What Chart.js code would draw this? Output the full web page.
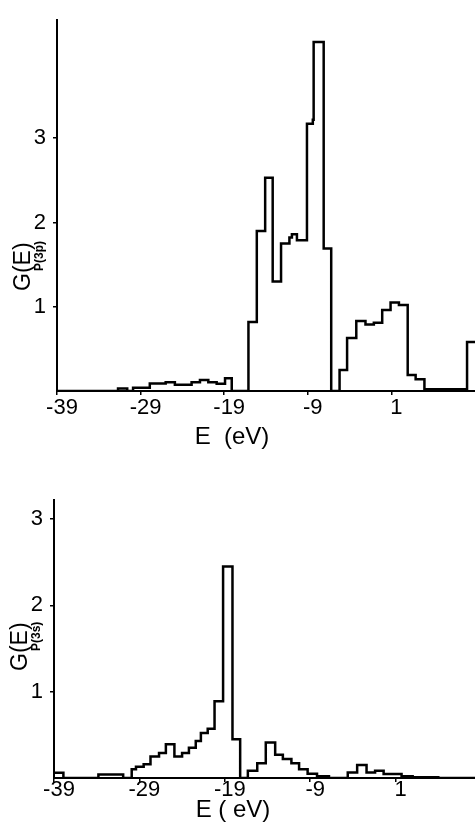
<!DOCTYPE html>
<html>
<head>
<meta charset="utf-8">
<script src="https://cdn.jsdelivr.net/npm/chart.js@4/dist/chart.umd.min.js"></script>
<style>
  body { margin: 0; background: #fff; width: 475px; height: 835px; overflow: hidden; }
  canvas { position: absolute; left: 0; }
  #topChart { top: 0; }
  #botChart { top: 450px; }
</style>
</head>
<body>
<canvas id="topChart" width="475" height="450"></canvas>
<canvas id="botChart" width="475" height="385"></canvas>
<script>
// tick labels
var xTicks = [-39, -29, -19, -9, 1];
var yTicks = [1, 2, 3];

// G(E) P(3p): lower edge of each bin (eV) and its height
var topEdges = [-39, -31.7, -30.6, -29.9, -27.9, -26, -24.9, -22.9, -21.9, -20.9, -19.9, -18.9, -18.1,
    -16.1, -15.1, -14.1, -13.2, -12.2, -11.2, -10.9, -10.3, -9.1, -8.4, -8.3, -7.1, -6.2,
    -5.2, -4.3, -3.2, -2.1, -1.1, -0.1, 0.9, 1.9, 2.95, 3.9, 4.95, 10.05, 11];
var topDos = [0, 0.03, 0, 0.04, 0.09, 0.105, 0.075, 0.105, 0.13, 0.105, 0.085, 0.15, 0,
    0.82, 1.90, 2.53, 1.30, 1.75, 1.82, 1.86, 1.79, 3.17, 3.22, 4.14, 1.69, 0,
    0.25, 0.63, 0.83, 0.79, 0.81, 0.96, 1.05, 1.02, 0.19, 0.14, 0.02, 0.58, 0.58];

// G(E) P(3s)
var botEdges = [-39, -37.9, -33.8, -30.9, -29.9, -29.4, -28.5, -27.7, -26.7, -25.9, -24.9, -24.0,
    -23.2, -22.4, -21.8, -21.0, -20.2, -19.2, -18.1, -17.2, -16.3, -15.2, -14.2, -13.1,
    -12.2, -11.2, -10.3, -9.3, -8.2, -6.8, -4.6, -3.5, -2.4, -1.4, -0.4, 1.7, 3.0, 6.0, 10.3];
var botDos = [0.06, 0, 0.04, 0, 0.10, 0.13, 0.16, 0.25, 0.29, 0.39, 0.25, 0.29,
    0.35, 0.43, 0.52, 0.57, 0.89, 2.45, 0.45, 0, 0.085, 0.17, 0.41, 0.27,
    0.22, 0.17, 0.10, 0.05, 0.02, 0, 0.065, 0.15, 0.065, 0.085, 0.045, 0.02, 0.01, 0, 0];

var font = "'Liberation Sans', Arial, sans-serif";

function toPoints(edges, vals) {
    return edges.map(function (e, i) { return { x: e, y: vals[i] }; });
}

// draws the axis titles (G(E) with subscript, E (eV)) as text on the canvas
function titlePlugin(t) {
    return {
        id: 'titles',
        afterDraw: function (chart) {
            var ctx = chart.ctx;
            ctx.save();
            ctx.fillStyle = '#000';
            ctx.font = '24px ' + font;
            ctx.textAlign = 'center';
            ctx.textBaseline = 'middle';
            ctx.fillText(t.xTitle, t.xTitleX, t.xTitleY);

            ctx.translate(t.gX, t.gY);
            ctx.rotate(-Math.PI / 2);
            ctx.textAlign = 'left';
            ctx.font = '23px ' + font;
            ctx.fillText('G(E)', 0, 0);
            ctx.font = 'bold 12px ' + font;
            ctx.fillText(t.sub, 20, 16);
            ctx.restore();
        }
    };
}

function makeChart(id, pts, xMax, yMax, axisW, axisH, padTop, labPad, t) {
    return new Chart(document.getElementById(id), {
        type: 'line',
        data: {
            datasets: [{
                data: pts,
                stepped: 'before',
                borderColor: '#000',
                borderWidth: 2.5,
                pointRadius: 0,
                fill: false
            }]
        },
        options: {
            responsive: false,
            animation: false,
            layout: { padding: { top: padTop, left: 0, right: 0, bottom: 0 } },
            plugins: { legend: { display: false }, tooltip: { enabled: false } },
            scales: {
                x: {
                    type: 'linear',
                    min: -39,
                    max: xMax,
                    afterBuildTicks: function (s) { s.ticks = xTicks.map(function (v) { return { value: v }; }); },
                    afterFit: function (s) { s.height = axisH; },
                    grid: { drawOnChartArea: false, color: '#000', tickLength: 4, lineWidth: 1.5 },
                    border: { color: '#000', width: 2 },
                    ticks: {
                        color: '#000',
                        font: { family: font, size: 22 },
                        padding: labPad,
                        labelOffset: 5,
                        maxRotation: 0,
                        autoSkip: false
                    }
                },
                y: {
                    min: 0,
                    max: yMax,
                    afterBuildTicks: function (s) { s.ticks = yTicks.map(function (v) { return { value: v }; }); },
                    afterFit: function (s) { s.width = axisW; },
                    grid: { drawOnChartArea: false, color: '#000', tickLength: 4, lineWidth: 1.5 },
                    border: { color: '#000', width: 2 },
                    ticks: {
                        color: '#000',
                        font: { family: font, size: 22 },
                        padding: 7
                    }
                }
            }
        },
        plugins: [titlePlugin(t)]
    });
}

makeChart('topChart', toPoints(topEdges, topDos), 11, 4.4, 57, 59, 12, 0,
    { xTitle: 'E  (eV)', xTitleX: 232, xTitleY: 437, gX: 24, gY: 291, sub: 'P(3p)' });

makeChart('botChart', toPoints(botEdges, botDos), 10.3, 3.22, 54, 57, 50, -5,
    { xTitle: 'E ( eV)', xTitleX: 233, xTitleY: 360, gX: 21, gY: 221, sub: 'P(3s)' });
</script>
</body>
</html>
